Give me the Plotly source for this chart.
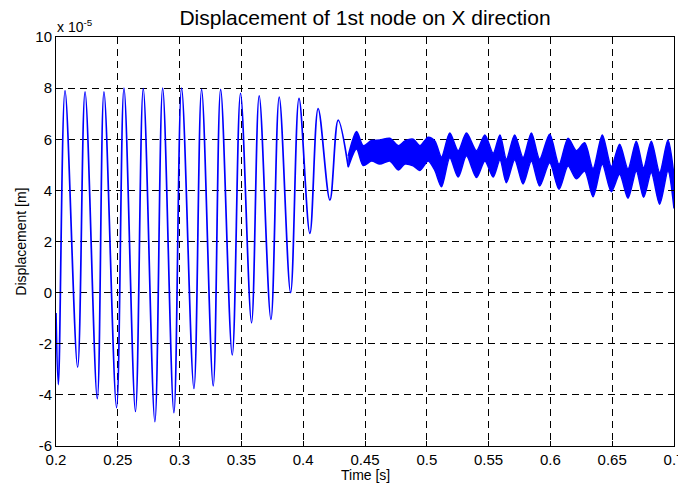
import plotly.graph_objects as go

# ---- data (displacement in units of 1e-5 m) ----
t_osc = [0.2000, 0.2019, 0.2073, 0.2175, 0.2235, 0.2334, 0.2388, 0.2490, 0.2550,
         0.2643, 0.2706, 0.2800, 0.2863, 0.2954, 0.3016, 0.3116, 0.3178, 0.3272,
         0.3332, 0.3426, 0.3493, 0.3582, 0.3644, 0.3739, 0.3806, 0.3898, 0.3966,
         0.4054, 0.4121, 0.4216, 0.4283, 0.4364]
v_osc = [-0.8, -3.6, 7.9, -2.92, 7.85, -4.15, 7.85, -4.5, 8.0,
         -4.65, 7.98, -5.05, 8.0, -4.7, 8.0, -3.75, 7.95, -3.65,
         7.95, -2.44, 7.8, -1.18, 7.7, -1.05, 7.65, 0.0, 7.6,
         2.32, 7.2, 3.62, 6.75, 4.93]

t_band = [0.4364, 0.4432, 0.4486, 0.4553, 0.4620, 0.4701, 0.4769, 0.4823, 0.4890,
          0.4944, 0.5011, 0.5065, 0.5119, 0.5186, 0.5254, 0.5321, 0.5402, 0.5470,
          0.5537, 0.5592, 0.5644, 0.5711, 0.5779, 0.5846, 0.5913, 0.5994, 0.6070,
          0.6143, 0.6210, 0.6277, 0.6345, 0.6420, 0.6493, 0.6560, 0.6628, 0.6695,
          0.6754, 0.6816, 0.6884, 0.6951, 0.7000]
band_hi = [5.35, 6.3, 5.75, 5.95, 5.97, 6.04, 5.75, 5.93, 6.0,
           5.75, 6.08, 5.93, 5.3, 6.24, 5.55, 6.24, 5.55, 6.17,
           5.45, 6.17, 5.22, 6.17, 5.28, 6.24, 5.22, 6.2, 5.02,
           6.04, 5.55, 5.86, 4.85, 6.17, 4.93, 5.8, 4.84, 5.92,
           4.88, 5.92, 4.7, 5.97, 4.56]
band_lo = [4.9, 5.62, 4.97, 5.15, 5.03, 5.15, 4.8, 5.03, 4.96,
           4.78, 5.15, 4.78, 4.14, 5.28, 4.52, 5.35, 4.5, 5.15,
           4.52, 5.2, 4.3, 5.2, 4.25, 5.15, 4.17, 5.08, 4.04,
           4.95, 4.45, 4.76, 3.75, 5.02, 3.95, 4.63, 3.69, 4.76,
           3.73, 4.7, 3.46, 4.76, 3.29]

x_ticks = [0.2, 0.25, 0.3, 0.35, 0.4, 0.45, 0.5, 0.55, 0.6, 0.65, 0.7]
x_ticktext = ["0.2", "0.25", "0.3", "0.35", "0.4", "0.45", "0.5", "0.55", "0.6", "0.65", "0.7"]
y_ticks = [-6, -4, -2, 0, 2, 4, 6, 8, 10]
y_ticktext = ["-6", "-4", "-2", "0", "2", "4", "6", "8", "10"]

BLUE = "#0000ff"
FONT = "Liberation Sans, Arial, sans-serif"

# the page body adds an 8px offset; size the figure so it ends at the window edge
FIG_W, FIG_H = 678, 480

fig = go.Figure()
fig.add_trace(go.Scatter(x=t_osc, y=v_osc, mode="lines",
                         line=dict(color=BLUE, width=1.7, shape="spline", smoothing=1.0),
                         showlegend=False, hoverinfo="skip"))
fig.add_trace(go.Scatter(x=t_band, y=band_lo, mode="lines",
                         line=dict(color=BLUE, width=1.5, shape="spline", smoothing=0.8),
                         showlegend=False, hoverinfo="skip"))
fig.add_trace(go.Scatter(x=t_band, y=band_hi, mode="lines", fill="tonexty",
                         fillcolor=BLUE,
                         line=dict(color=BLUE, width=1.5, shape="spline", smoothing=0.8),
                         showlegend=False, hoverinfo="skip"))

axis_common = dict(
    automargin=False,
    showline=True, linecolor="black", linewidth=1, mirror="ticks",
    ticks="inside", ticklen=5, tickcolor="black", tickwidth=1,
    showgrid=True, gridcolor="black", gridwidth=1, griddash="7px,5px",
    zeroline=False, tickfont=dict(family=FONT, size=15, color="black"),
)

fig.update_layout(
    width=FIG_W, height=FIG_H,
    margin=dict(l=48, r=12, t=29, b=42, autoexpand=False),
    paper_bgcolor="white", plot_bgcolor="white",
    title=dict(text="Displacement of 1st node on X direction",
               font=dict(family=FONT, size=21, color="black"),
               x=0.5, xref="paper", xanchor="center",
               y=1 - 10 / FIG_H, yref="container", yanchor="middle"),
    xaxis=dict(range=[0.2, 0.7], tickvals=x_ticks, ticktext=x_ticktext, **axis_common),
    yaxis=dict(range=[-6, 10], tickvals=y_ticks, ticktext=y_ticktext, **axis_common),
    annotations=[
        dict(text="Time [s]", xref="paper", yref="paper", x=0.5, y=-0.07,
             xanchor="center", yanchor="middle", showarrow=False,
             font=dict(family=FONT, size=14, color="black")),
        dict(text="Displacement [m]", xref="paper", yref="paper", x=-0.058, y=0.5,
             xanchor="center", yanchor="middle", textangle=-90, showarrow=False,
             font=dict(family=FONT, size=14, color="black")),
        dict(text="x 10<sup>-5</sup>", xref="paper", yref="paper", x=-0.002, y=1.0,
             xanchor="left", yanchor="bottom", yshift=0, showarrow=False,
             font=dict(family=FONT, size=14, color="black")),
    ],
)

fig.write_html("out.html")
